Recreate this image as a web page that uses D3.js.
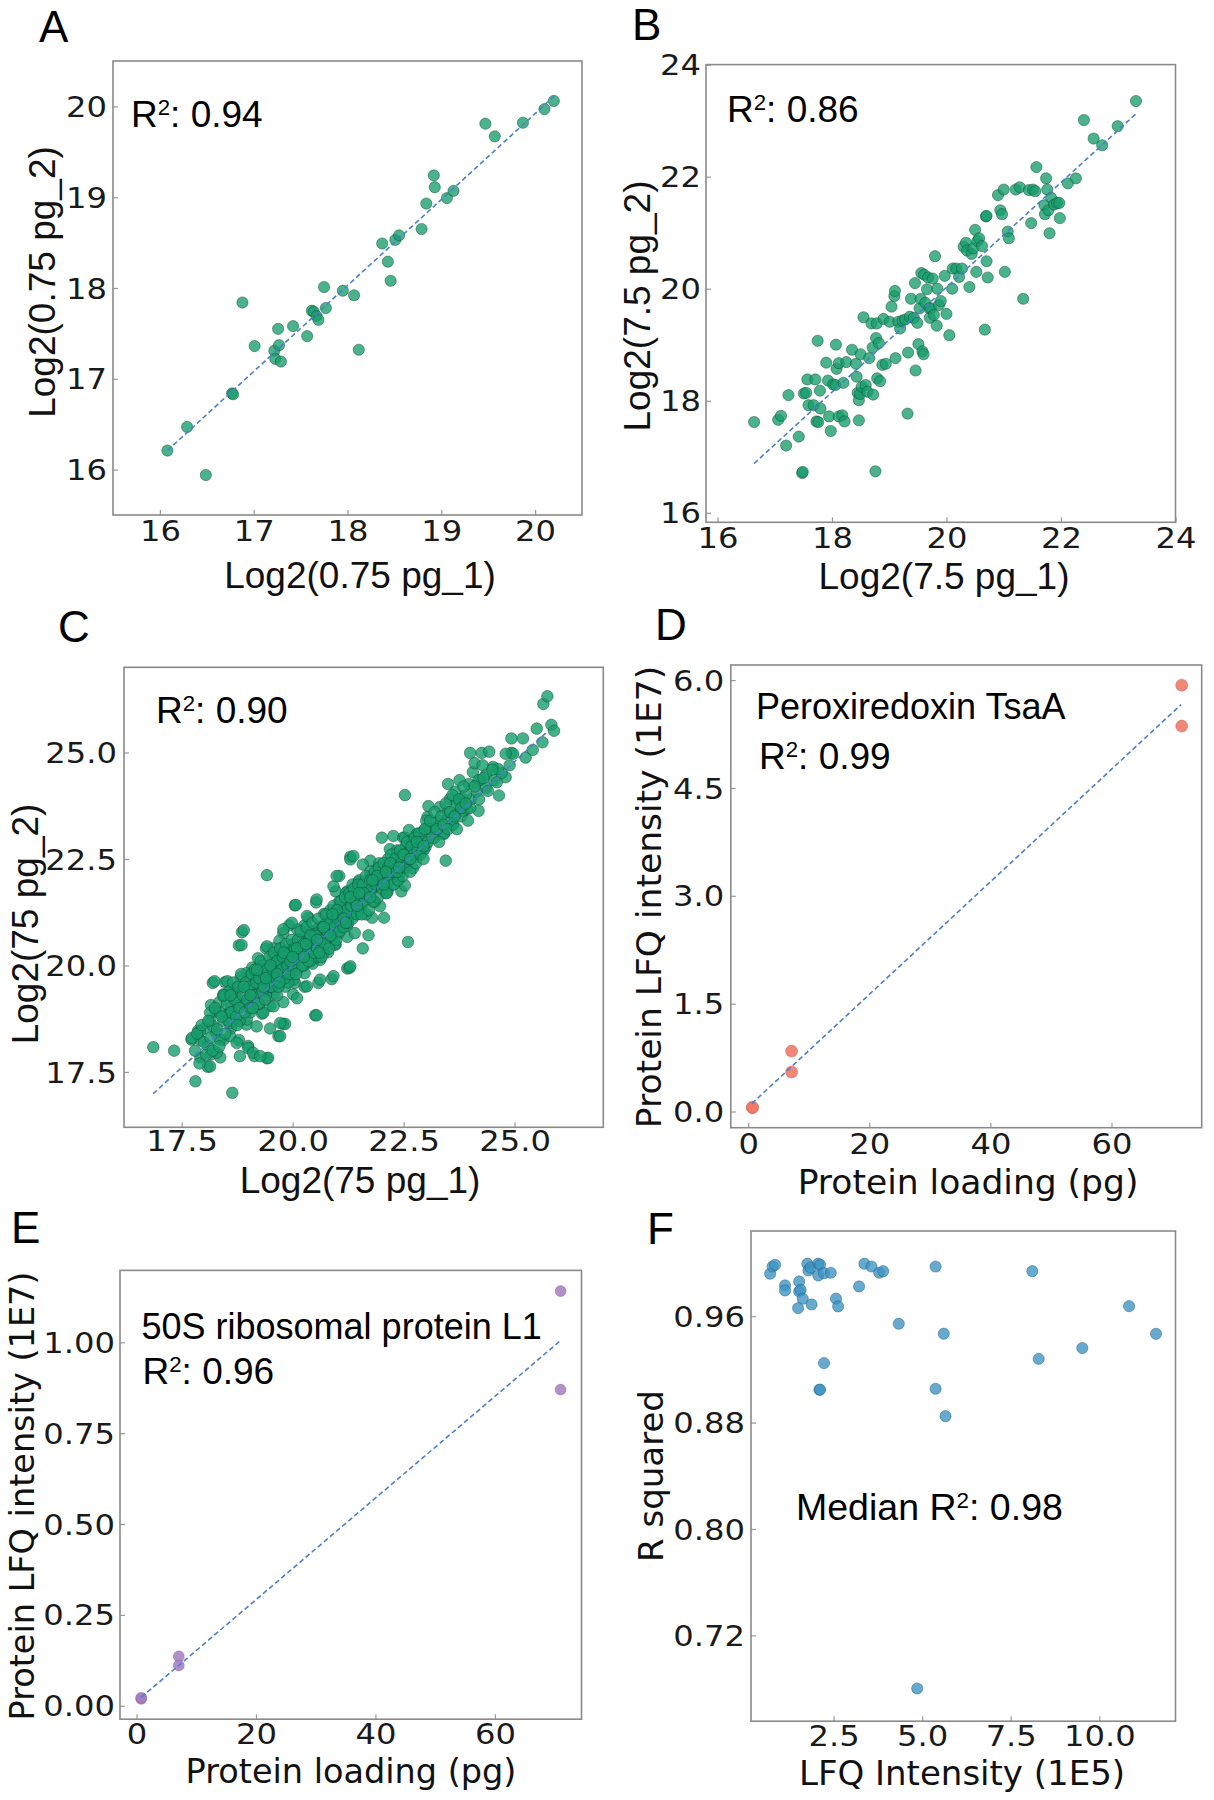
<!DOCTYPE html>
<html><head><meta charset="utf-8">
<script src="https://cdn.jsdelivr.net/npm/d3@7"></script>
<style>body{margin:0;background:#fff}</style>
</head><body>
<svg id="chart" width="1214" height="1800"></svg>
<script>
// ---------------- DATA ----------------
const pointsA = [[16.08,16.21],[16.29,16.47],[16.49,15.94],[16.77,16.84],[16.78,16.83],[16.88,17.84],[17.01,17.36],[17.22,17.31],[17.23,17.22],[17.26,17.55],[17.27,17.37],[17.29,17.19],[17.42,17.58],[17.57,17.47],[17.62,17.75],[17.64,17.74],[17.67,17.69],[17.69,17.65],[17.75,18.01],[17.77,17.78],[17.95,17.97],[18.07,17.92],[18.12,17.32],[18.37,18.49],[18.43,18.29],[18.46,18.08],[18.51,18.53],[18.55,18.58],[18.79,18.65],[18.84,18.93],[18.92,19.24],[18.93,19.11],[19.06,18.99],[19.13,19.07],[19.47,19.81],[19.57,19.67],[19.87,19.82],[20.1,19.97],[20.2,20.06]];
const fitA = [[16.08,16.21],[20.2,20.11]];
const ticksA = [16,17,18,19,20];

const pointsB = [[16.64,17.62],[17.06,17.66],[17.11,17.73],[17.2,17.2],[17.24,18.1],[17.42,17.36],[17.48,16.71],[17.49,16.73],[17.51,18.13],[17.55,18.14],[17.57,18.38],[17.59,17.92],[17.68,17.92],[17.71,18.38],[17.73,17.63],[17.76,17.62],[17.75,19.07],[17.79,18.18],[17.8,17.86],[17.9,18.68],[17.93,18.36],[17.95,17.72],[17.98,17.46],[18.02,18.29],[18.06,18.28],[18.07,19.0],[18.08,18.57],[18.12,18.67],[18.12,17.72],[18.18,17.74],[18.2,18.32],[18.22,17.63],[18.25,18.69],[18.35,18.91],[18.42,18.66],[18.43,18.43],[18.45,18.14],[18.47,18.01],[18.47,17.65],[18.49,18.12],[18.5,18.83],[18.52,18.25],[18.55,19.49],[18.59,18.28],[18.62,18.16],[18.65,18.76],[18.69,19.38],[18.71,18.95],[18.72,18.11],[18.76,16.74],[18.77,19.12],[18.78,19.38],[18.79,18.4],[18.82,19.03],[18.84,18.35],[18.88,18.64],[18.9,19.46],[18.94,18.66],[19.01,19.41],[19.04,19.68],[19.09,19.87],[19.1,19.96],[19.11,18.76],[19.16,19.41],[19.19,19.29],[19.23,19.43],[19.28,19.45],[19.32,17.77],[19.33,18.86],[19.36,19.5],[19.38,19.82],[19.43,19.48],[19.45,20.1],[19.46,18.54],[19.49,19.39],[19.51,19.01],[19.53,19.65],[19.55,19.82],[19.56,20.28],[19.58,18.88],[19.6,18.83],[19.61,20.25],[19.63,19.75],[19.66,19.99],[19.68,20.2],[19.7,19.65],[19.71,19.48],[19.73,19.65],[19.76,20.18],[19.78,19.53],[19.8,20.58],[19.83,19.34],[19.84,20.0],[19.87,19.71],[19.9,19.78],[19.97,20.23],[20.0,19.55],[20.05,19.17],[20.1,20.0],[20.11,20.36],[20.17,20.36],[20.22,20.21],[20.27,20.36],[20.3,20.75],[20.34,20.82],[20.36,20.68],[20.4,20.03],[20.44,20.62],[20.47,20.72],[20.5,21.05],[20.52,20.3],[20.54,20.85],[20.57,20.9],[20.62,20.76],[20.67,19.27],[20.69,21.29],[20.7,21.3],[20.7,20.49],[20.72,20.2],[20.9,21.67],[20.94,21.4],[20.97,21.33],[21.0,21.77],[21.02,20.3],[21.07,21.02],[21.09,20.9],[21.21,21.77],[21.28,21.81],[21.34,19.82],[21.44,21.76],[21.48,21.17],[21.51,21.77],[21.55,21.74],[21.57,22.17],[21.71,21.49],[21.72,21.33],[21.74,21.97],[21.76,21.77],[21.78,21.4],[21.8,20.99],[21.83,21.62],[21.88,21.5],[21.93,21.53],[21.97,21.53],[21.98,21.26],[22.12,21.88],[22.26,21.97],[22.4,23.01],[22.57,22.68],[22.72,22.56],[22.99,22.9],[23.31,23.35]];
const fitB = [[16.64,16.88],[23.33,23.14]];
const ticksB = [16,18,20,22,24];

const pointsC = [[16.86,18.08],[17.33,18.0],[17.81,17.28],[18.64,17.01],[17.72,18.26],[17.92,18.25],[17.92,17.84],[18.09,17.62],[18.16,17.91],[18.37,17.84],[18.2,19.59],[18.48,19.61],[18.16,19.07],[18.79,20.47],[18.86,20.78],[19.42,22.12],[19.14,17.87],[19.42,17.82],[19.68,18.34],[19.79,18.62],[20.51,18.83],[20.05,19.59],[20.05,21.41],[20.58,19.59],[20.88,19.68],[21.23,19.93],[21.3,22.55],[22.53,24.0],[22.6,20.55],[23.45,22.46],[23.04,23.49],[23.5,24.26],[24.23,24.35],[24.65,23.99],[24.93,25.33],[25.19,25.33],[25.25,24.88],[25.41,25.06],[25.5,25.56],[25.63,25.24],[25.65,26.14],[25.74,26.32],[25.83,25.65],[25.89,25.51],[24.0,24.99],[24.26,24.99],[24.43,25.02],[24.8,24.42],[24.93,24.99],[24.97,24.97],[24.36,24.48],[24.52,24.66],[24.06,24.54],[23.84,23.9],[23.67,24.08],[23.93,23.67],[24.19,23.63],[23.06,23.74],[23.32,23.72],[23.01,23.4],[23.14,23.18],[23.41,23.09],[23.62,23.31],[22.88,22.87],[22.8,22.55],[22.71,22.28],[22.97,22.73],[22.45,21.74],[22.53,21.88],[22.36,22.01],[22.1,22.28],[22.19,22.73],[22.01,23.0],[22.27,23.04],[22.49,23.0],[21.75,22.46],[21.58,22.37],[21.49,21.97],[21.45,21.61],[21.36,21.21],[21.18,21.07],[21.05,21.39],[20.97,21.74],[21.05,22.1],[21.58,20.4],[21.71,20.71],[21.79,21.12],[21.97,21.39],[22.06,21.12],[22.14,21.74],[20.71,21.21],[20.53,21.48],[20.36,21.12],[20.27,20.94],[20.1,20.85],[19.92,20.94],[19.79,20.76],[19.7,20.58],[19.57,20.4],[19.4,20.4],[19.22,20.17],[19.09,19.95],[18.96,19.82],[18.83,19.73],[18.75,19.5],[18.61,19.37],[18.44,19.32],[18.35,19.14],[18.27,18.92],[18.14,18.7],[18.01,18.52],[17.87,18.47],[18.53,18.87],[18.61,18.52],[18.79,18.7],[18.96,18.61],[19.31,18.87],[19.49,19.05],[19.57,19.32],[19.4,19.41],[19.14,19.32],[18.96,19.14],[18.79,19.05],[18.61,19.05],[18.44,18.7],[18.27,18.43],[18.44,18.25],[18.79,18.25],[19.0,18.11],[19.49,18.52],[19.79,19.14],[20.01,19.32],[20.27,19.5],[20.1,19.23],[19.83,19.5],[19.75,19.77],[20.01,19.95],[20.27,19.82],[20.45,20.04],[20.62,20.13],[20.36,20.31],[20.18,20.49],[20.01,20.4],[19.83,20.13],[19.66,20.04],[19.49,19.95],[19.31,19.68],[19.14,19.59],[19.49,19.68],[19.66,19.59],[20.8,20.31],[20.97,20.49],[20.88,20.76],[20.71,20.67],[20.53,20.76],[20.36,20.67],[21.05,20.76],[21.23,20.67],[21.4,20.76],[21.23,20.94],[21.05,21.03],[20.88,21.12],[21.23,21.39],[21.32,21.57],[21.23,21.74],[21.4,21.83],[21.66,21.74],[21.84,21.83],[21.75,22.1],[21.92,22.28],[22.01,21.92],[22.19,22.1],[22.27,22.37],[22.45,22.46],[22.36,22.64],[22.62,22.73],[22.71,22.91],[22.53,23.0],[22.62,23.18],[22.8,23.09],[22.97,23.18],[23.23,23.27],[23.5,23.45],[23.67,23.54],[23.84,23.63],[24.02,23.9],[23.76,23.81],[23.54,23.9],[24.15,24.08],[24.36,24.17],[24.54,24.35],[24.71,24.52],[24.19,24.35],[23.97,24.26],[23.76,24.35],[24.1,24.75],[24.28,24.7],[24.63,24.61],[24.89,24.7],[24.8,24.97],
[18.24,19.63],[18.53,19.63],[18.9,20.83],[18.85,20.48],[19.42,20.45],[20.54,18.83],[21.28,19.94],[20.07,21.42],[19.45,17.83],[19.72,18.34],[19.83,18.63],
[17.73,18.3],[17.91,18.45],[18.1,18.1],[18.14,17.63],[18.29,17.95],[18.36,18.26],[18.59,18.34],[18.74,18.18],[18.81,17.87],[19.0,18.06],[19.11,17.95],[19.27,17.87],[18.14,18.89],[18.36,18.89],[18.59,18.65],[18.21,18.57],[18.44,19.28],[18.74,19.36],[18.97,18.73],[19.19,18.57],[19.34,18.89],[19.57,19.04],[19.72,18.65],[19.04,19.75],[19.27,19.98],[19.64,20.14],[19.87,20.3],[20.02,19.67],[20.32,19.51],[20.62,19.67],[20.92,19.75],[21.3,19.98],[19.79,20.85],[19.98,21.0],[20.32,21.16],[20.54,21.55],[20.92,21.86],[20.99,22.1],[21.3,22.49],[21.37,22.57],
[18.6,18.9],[18.7,19.3],[18.8,18.7],[18.9,19.1],[19.0,19.5],[19.05,18.9],[19.1,19.3],[19.2,19.7],[19.25,19.1],[19.3,19.5],[19.35,20.0],[19.4,19.3],[19.45,19.8],[19.5,19.5],[19.55,20.2],[19.6,19.7],[19.65,19.3],[19.7,20.0],[19.75,20.4],[19.8,19.8],[19.85,20.2],[19.9,19.6],[19.95,20.0],[20.0,20.5],[20.05,20.2],[20.1,19.9],[20.15,20.6],[20.2,20.3],[20.25,20.0],[20.3,20.7],[20.35,20.4],[20.4,20.1],[20.45,20.8],[20.5,20.5],[20.55,20.2],[20.6,20.9],[20.65,20.6],[20.7,20.3],[20.75,21.0],[20.8,20.7],[20.85,21.3],[20.9,20.9],[20.95,20.5],[21.0,21.2],[21.05,21.5],[21.1,20.9],[21.15,21.3],[21.2,21.7],[21.25,21.1],[21.3,21.4],[21.35,21.9],[21.4,21.2],[21.45,21.6],[21.5,22.0],[21.55,21.4],[21.6,21.8],[21.65,21.2],[21.7,21.6],[21.75,22.2],[21.8,21.8],[21.85,21.5],[21.9,22.1],[21.95,22.4],[22.0,21.9],[22.05,22.2],[22.1,21.7],[22.15,22.5],[22.2,22.2],[22.25,21.9],[22.3,22.4],[22.35,22.7],[22.4,22.1],[22.45,22.5],[22.5,22.3],[22.55,22.8],[22.6,22.5],[22.7,22.9],[22.8,22.6],[22.9,23.1],[23.0,22.8],[23.1,23.2],[23.2,23.0],[23.3,23.4],[23.4,23.1],[23.5,23.6],[23.6,23.3],[23.7,23.8],[23.8,23.5],[23.9,24.0],[24.0,23.7],[24.1,24.2],[24.2,23.9],[24.3,24.4],[24.4,24.1],[24.5,24.6],[24.6,24.3],
[18.52,19.1],[18.55,18.7],[18.58,19.4],[18.62,18.9],[18.66,19.6],[18.7,19.2],[18.73,18.8],[18.77,19.5],[18.8,19.0],[18.84,19.8],[18.88,19.3],[18.92,18.9],[18.95,19.6],[18.98,19.2],
[19.02,19.5],[19.05,19.0],[19.08,19.8],[19.12,19.3],[19.15,19.9],[19.18,19.6],[19.22,19.1],[19.25,19.7],[19.28,20.1],[19.32,19.4],[19.35,19.8],[19.38,19.2],[19.42,19.9],[19.45,19.6],[19.48,20.2],
[19.52,19.5],[19.55,19.9],[19.58,20.3],[19.62,19.7],[19.65,20.1],[19.68,19.5],[19.72,20.4],[19.75,19.9],[19.78,20.2],[19.82,19.7],[19.85,20.5],[19.88,20.0],[19.92,19.8],[19.95,20.3],[19.98,20.6],
[20.02,20.0],[20.05,20.4],[20.08,19.8],[20.12,20.6],[20.15,20.2],[20.18,20.8],[20.22,20.0],[20.25,20.5],[20.28,20.3],[20.32,20.9],[20.35,20.1],[20.38,20.6],[20.42,20.4],[20.45,21.0],[20.48,20.3],
[20.52,20.7],[20.55,20.4],[20.58,21.1],[20.62,20.6],[20.65,20.2],[20.68,20.9],[20.72,20.5],[20.75,21.2],[20.78,20.8],[20.82,20.4],[20.85,21.0],[20.88,20.7],[20.92,21.4],[20.95,20.9],[20.98,20.6],
[21.02,21.1],[21.05,20.8],[21.08,21.5],[21.12,21.2],[21.15,20.9],[21.18,21.6],[21.22,21.3],[21.25,21.0],[21.28,21.7],[21.32,21.4],[21.35,21.1],[21.38,21.8],[21.42,21.5],[21.45,21.2],[21.48,21.9],
[21.52,21.6],[21.55,21.2],[21.58,21.9],[21.62,21.5],[21.65,22.1],[21.68,21.7],[21.72,21.3],[21.75,22.0],[21.78,21.8],[21.82,21.5],[21.85,22.2],[21.88,21.9],[21.92,21.6],[21.95,22.3],[21.98,22.0],
[22.02,21.8],[22.05,22.4],[22.08,22.1],[22.12,21.7],[22.15,22.3],[22.18,22.0],[22.22,22.6],[22.25,22.2],[22.28,21.9],[22.32,22.5],[22.35,22.3],[22.38,22.0],[22.42,22.7],[22.45,22.4],[22.48,22.1],
[22.52,22.6],[22.55,22.3],[22.58,22.9],[22.62,22.5],[22.65,22.2],[22.68,22.8],[22.72,22.6],[22.75,23.0],[22.78,22.4],[22.82,22.7],[22.85,23.1],[22.88,22.6],[22.92,22.9],[22.95,22.5],[22.98,23.2],
[23.05,22.9],[23.1,23.4],[23.15,23.0],[23.2,23.6],[23.25,23.2],[23.3,22.9],[23.35,23.5],[23.4,23.3],[23.45,23.8],[23.5,23.2],[23.55,23.6],[23.6,24.0],[23.65,23.5],[23.7,23.2],[23.75,23.9],[23.8,23.7],[23.85,24.2],[23.9,23.8],[23.95,23.4],
[17.8,18.0],[17.85,18.4],[17.9,17.7],[17.95,18.6],[18.0,18.2],[18.05,17.9],[18.1,18.7],[18.15,18.3],[18.2,18.0],[18.25,19.0],[18.3,18.5],[18.35,18.1],[18.4,18.8],[18.45,19.3],[18.48,18.4],
[18.6,19.3],[18.75,18.6],[18.9,19.5],[19.05,19.3],[19.2,19.9],[19.35,19.5],[19.5,20.0],[19.65,19.8],[19.8,20.3],[19.95,20.1],[20.1,20.4],[20.25,20.2],[20.4,20.7],[20.55,20.6],[20.7,20.9],[20.85,20.7],[21.0,21.3],[21.15,21.1],[21.3,21.6],[21.45,21.4],[21.6,21.7],[21.75,21.6],[21.9,22.1],[22.05,21.9],[22.2,22.4],[22.35,22.2],[22.5,22.6],[22.65,22.5],[22.8,22.9],[22.95,22.8],
[19.1,19.0],[19.4,19.7],[19.7,19.6],[20.0,20.2],[20.3,20.5],[20.6,20.3],[20.9,21.2],[21.2,21.0],[21.5,21.7],[21.8,22.0],[22.1,22.2],[22.4,22.3]];
const fitC = [[16.86,16.99],[25.76,25.51]];
const ticksC = [17.5,20.0,22.5,25.0];

const pointsD = [[0.7,0.053],[0.72,0.06],[7.17,0.84],[7.17,0.55],[71.6,5.93],[71.6,5.36]];
const fitD = [[0.6,0.11],[71.5,5.66]];
const ticksDx = [0,20,40,60];
const ticksDy = [0.0,1.5,3.0,4.5,6.0];

const pointsE = [[0.78,0.019],[0.8,0.022],[7.08,0.136],[7.08,0.111],[71.0,1.141],[71.0,0.870]];
const fitE = [[0.78,0.023],[71.0,1.005]];
const ticksEx = [0,20,40,60];
const ticksEy = [0.00,0.25,0.50,0.75,1.00];

const pointsF = [[0.71,0.9919],[0.78,0.9973],[0.85,0.9986],[1.13,0.9831],[1.13,0.9793],[1.53,0.9861],[1.53,0.9786],[1.57,0.9798],[1.63,0.9731],[1.50,0.9660],[1.88,0.9688],[1.76,0.9994],[1.79,0.9943],[1.85,0.9965],[2.07,0.9994],[2.12,0.9986],[2.07,0.9906],[2.23,0.9923],[2.42,0.9926],[2.57,0.9731],[2.63,0.9673],[3.22,0.9823],[3.37,0.9994],[3.57,0.9973],[3.79,0.9926],[3.90,0.9938],[4.34,0.9543],[5.38,0.9973],[5.61,0.9468],[2.23,0.9247],[2.10,0.9047],[2.12,0.9047],[5.38,0.9054],[4.86,0.6801],[5.66,0.8848],[8.11,0.9938],[8.29,0.9279],[9.52,0.936],[10.84,0.9675],[11.6,0.9467]];
const ticksFx = [2.5,5.0,7.5,10.0];
const ticksFy = [0.72,0.80,0.88,0.96];

// ---------------- DRAWING ----------------
const svg = d3.select('#chart');
const ARIAL = 'Liberation Sans, Arial, Helvetica, sans-serif';
const DEJA = 'DejaVu Sans, Verdana, sans-serif';
const TICK_SX = 1.15, TICK_FS = 28;

function stext(g, x, y, str, o) {
  return g.append('text')
    .attr('transform', `translate(${x},${y})` + (o.rotate ? ' rotate(-90)' : '') + (o.sx ? ` scale(${o.sx},1)` : ''))
    .attr('text-anchor', o.anchor || 'start')
    .style('font-family', o.family || ARIAL)
    .style('font-size', o.size + 'px')
    .attr('fill', o.fill || '#111')
    .text(str);
}
function r2(g, x, y, prefix, value, fs) {
  const t = g.append('text').attr('x', x).attr('y', y)
    .style('font-family', ARIAL).style('font-size', fs + 'px').attr('fill', '#000');
  t.append('tspan').text(prefix + 'R');
  t.append('tspan').attr('dy', -0.33 * fs).style('font-size', (0.6 * fs) + 'px').text('2');
  t.append('tspan').attr('dy', 0.33 * fs).text(': ' + value);
}

function panel(c) {
  const g = svg.append('g');
  const b = c.box;
  const x = d3.scaleLinear().domain(c.xDomain).range([b.l, b.r]);
  const y = d3.scaleLinear().domain(c.yDomain).range([b.b, b.t]);

  const gx = g.append('g').attr('transform', `translate(0,${b.b})`)
    .call(d3.axisBottom(x).tickValues(c.xTicks).tickFormat(d3.format(c.xFmt)).tickSizeInner(-5).tickSizeOuter(0));
  gx.select('.domain').remove();
  gx.selectAll('.tick line').attr('stroke', '#9a9a9a').attr('stroke-width', 1.2);
  gx.selectAll('.tick text').attr('y', c.xOff).attr('dy', 0).attr('fill', '#1a1a1a')
    .style('font-family', DEJA).style('font-size', TICK_FS + 'px').attr('transform', `scale(${TICK_SX},1)`);

  const gy = g.append('g').attr('transform', `translate(${b.l},0)`)
    .call(d3.axisLeft(y).tickValues(c.yTicks).tickFormat(d3.format(c.yFmt)).tickSizeInner(-5).tickSizeOuter(0));
  gy.select('.domain').remove();
  gy.selectAll('.tick line').attr('stroke', '#9a9a9a').attr('stroke-width', 1.2);
  gy.selectAll('.tick text').attr('x', -c.yGap / TICK_SX).attr('dy', '0.36em').attr('fill', '#1a1a1a')
    .style('font-family', DEJA).style('font-size', TICK_FS + 'px').attr('transform', `scale(${TICK_SX},1)`);

  g.append('rect').attr('x', b.l).attr('y', b.t).attr('width', b.r - b.l).attr('height', b.b - b.t)
    .attr('fill', 'none').attr('stroke', '#8a8a8a').attr('stroke-width', 1.6);

  g.append('g').selectAll('circle').data(c.points).join('circle')
    .attr('cx', d => x(d[0])).attr('cy', d => y(d[1])).attr('r', c.r)
    .attr('fill', c.fill).attr('fill-opacity', c.fop)
    .attr('stroke', c.stroke).attr('stroke-opacity', c.sop).attr('stroke-width', 0.8);

  if (c.fit) {
    g.append('path').datum(c.fit)
      .attr('d', d3.line().x(d => x(d[0])).y(d => y(d[1])))
      .attr('fill', 'none').attr('stroke', '#4a7fcf').attr('stroke-width', 1.6)
      .attr('stroke-dasharray', '5,3');
  }

  stext(g, c.xt[0], c.xt[1], c.xTitle, {anchor: 'middle', size: c.tfs, family: c.tfam});
  stext(g, c.yt[0], c.yt[1], c.yTitle, {anchor: 'middle', size: c.tfs, family: c.tfam, rotate: true});
  stext(g, c.lab[0], c.lab[1], c.label, {size: 44, family: ARIAL, fill: '#000'});
  return {g, x, y};
}

const green = {fill: '#179d6c', fop: 0.78, stroke: '#0a4a32', sop: 0.6, r: 5.6};

const A = panel(Object.assign({
  box: {l: 113, t: 61, r: 582, b: 515}, xDomain: [15.5, 20.5], yDomain: [15.5, 20.5],
  xTicks: ticksA, yTicks: ticksA, xFmt: 'd', yFmt: 'd', xOff: 26, yGap: 6,
  points: pointsA, fit: fitA,
  xTitle: 'Log2(0.75 pg_1)', yTitle: 'Log2(0.75 pg_2)', tfs: 37, tfam: ARIAL,
  xt: [360, 588], yt: [55, 282], label: 'A', lab: [39, 42]
}, green));
r2(A.g, 131, 127, '', '0.94', 37);

const B = panel(Object.assign({
  box: {l: 706, t: 64.6, r: 1175.5, b: 522.3}, xDomain: [15.8, 24.0], yDomain: [15.83, 24.0],
  xTicks: ticksB, yTicks: ticksB, xFmt: 'd', yFmt: 'd', xOff: 26, yGap: 5,
  points: pointsB, fit: fitB,
  xTitle: 'Log2(7.5 pg_1)', yTitle: 'Log2(7.5 pg_2)', tfs: 37, tfam: ARIAL,
  xt: [944, 589], yt: [650, 306], label: 'B', lab: [632, 40]
}, green));
r2(B.g, 727, 122, '', '0.86', 37);

const C = panel(Object.assign({
  box: {l: 124, t: 667.3, r: 603.3, b: 1127.3}, xDomain: [16.2, 27.0], yDomain: [16.2, 27.0],
  xTicks: ticksC, yTicks: ticksC, xFmt: '.1f', yFmt: '.1f', xOff: 24, yGap: 7,
  points: pointsC, fit: fitC,
  xTitle: 'Log2(75 pg_1)', yTitle: 'Log2(75 pg_2)', tfs: 37, tfam: ARIAL,
  xt: [360, 1193], yt: [38, 924], label: 'C', lab: [58, 642]
}, green, {r: 5.8, fop: 0.8}));
r2(C.g, 156, 723, '', '0.90', 37);

const D = panel({
  box: {l: 730.8, t: 665, r: 1201.7, b: 1127.7}, xDomain: [-2.87, 74.9], yDomain: [-0.225, 6.21],
  xTicks: ticksDx, yTicks: ticksDy, xFmt: 'd', yFmt: '.1f', xOff: 26, yGap: 6.5,
  points: pointsD, fit: fitD, fill: '#f07a68', fop: 0.9, stroke: '#c4503f', sop: 0.5, r: 6,
  xTitle: 'Protein loading (pg)', yTitle: 'Protein LFQ intensity (1E7)', tfs: 34.5, tfam: DEJA,
  xt: [968, 1194], yt: [661, 897], label: 'D', lab: [655, 640]
});
stext(D.g, 756, 719, 'Peroxiredoxin TsaA', {size: 36, family: ARIAL, fill: '#000'});
r2(D.g, 759, 769, '', '0.99', 37);

const E = panel({
  box: {l: 120, t: 1270.4, r: 581.5, b: 1719.2}, xDomain: [-2.76, 74.5], yDomain: [-0.037, 1.198],
  xTicks: ticksEx, yTicks: ticksEy, xFmt: 'd', yFmt: '.2f', xOff: 25, yGap: 5,
  points: pointsE, fit: fitE, fill: '#a47cbd', fop: 0.85, stroke: '#6e4a8a', sop: 0.4, r: 5.5,
  xTitle: 'Protein loading (pg)', yTitle: 'Protein LFQ intensity (1E7)', tfs: 33.5, tfam: DEJA,
  xt: [351, 1783], yt: [34, 1496], label: 'E', lab: [11, 1243]
});
stext(E.g, 141.5, 1338.5, '50S ribosomal protein L1', {size: 36, family: ARIAL, fill: '#000'});
r2(E.g, 142.5, 1384, '', '0.96', 37);

const F = panel({
  box: {l: 751, t: 1231, r: 1175.5, b: 1721.2}, xDomain: [0.17, 12.15], yDomain: [0.6555, 1.024],
  xTicks: ticksFx, yTicks: ticksFy, xFmt: '.1f', yFmt: '.2f', xOff: 25, yGap: 6,
  points: pointsF, fit: null, fill: '#3b93c2', fop: 0.78, stroke: '#1b5377', sop: 0.55, r: 5.6,
  xTitle: 'LFQ Intensity (1E5)', yTitle: 'R squared', tfs: 34, tfam: DEJA,
  xt: [962, 1785], yt: [663, 1476], label: 'F', lab: [647, 1244]
});
r2(F.g, 796, 1520, 'Median ', '0.98', 37.5);
</script>
</body></html>
